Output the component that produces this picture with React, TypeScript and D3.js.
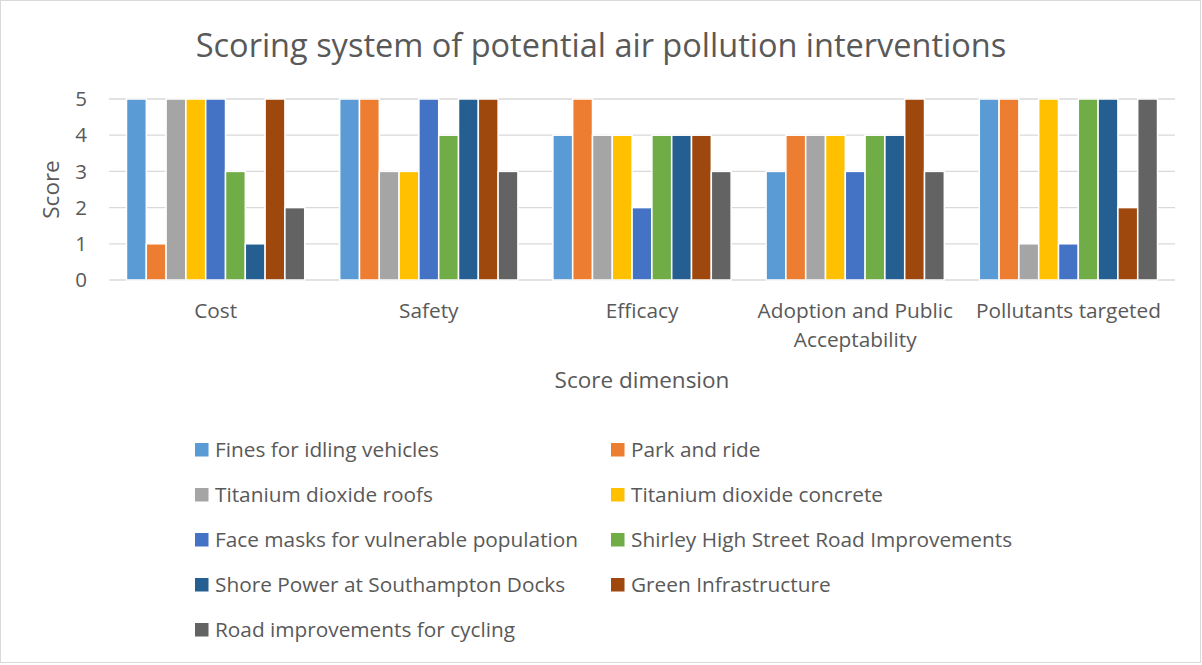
import React from "react";
import * as d3 from "d3";

const categories = ["Cost", "Safety", "Efficacy", "Adoption and Public Acceptability", "Pollutants targeted"];
const categoryLines = [["Cost"], ["Safety"], ["Efficacy"], ["Adoption and Public", "Acceptability"], ["Pollutants targeted"]];
const seriesNames = [
  "Fines for idling vehicles",
  "Park and ride",
  "Titanium dioxide roofs",
  "Titanium dioxide concrete",
  "Face masks for vulnerable population",
  "Shirley High Street Road Improvements",
  "Shore Power at Southampton Docks",
  "Green Infrastructure",
  "Road improvements for cycling",
];
const seriesColors = ["#5B9BD5", "#ED7D31", "#A5A5A5", "#FFC000", "#4472C4", "#70AD47", "#255E91", "#9E480E", "#636363"];
// values[series][category]
const fines = [5, 5, 4, 3, 5];
const parkRide = [1, 5, 5, 4, 5];
const tioRoofs = [5, 3, 4, 4, 1];
const tioConcrete = [5, 3, 4, 4, 5];
const faceMasks = [5, 5, 2, 3, 1];
const shirley = [3, 4, 4, 4, 5];
const shorePower = [1, 5, 4, 4, 5];
const greenInfra = [5, 5, 4, 5, 2];
const cycling = [2, 3, 3, 3, 5];
const seriesValues = [fines, parkRide, tioRoofs, tioConcrete, faceMasks, shirley, shorePower, greenInfra, cycling];
const yTicks = [0, 1, 2, 3, 4, 5];

const W = 1202, H = 665;
const FONT = "'Open Sans', 'Noto Sans', sans-serif";
const TXT = "#595959";

export default function App() {
  const left = 109, right = 1175, top = 99, bottom = 280;
  const x = d3.scaleBand<number>().domain(d3.range(categories.length)).range([left, right]).padding(0);
  const y = d3.scaleLinear().domain([0, 5]).range([bottom, top]);
  const bw = x.bandwidth();
  const pad = bw * 0.082;
  const xs = d3.scaleBand<number>().domain(d3.range(seriesNames.length)).range([pad, bw - pad]).padding(0);

  const legendCols = [195, 611];
  const legendY0 = 450, legendStep = 45;

  return (
    <svg width={W} height={H} style={{ position: "fixed", left: 0, top: 0, background: "#fff" }} fontFamily={FONT}>
      <rect x={0.5} y={0.5} width={W - 2} height={H - 3} fill="#fff" stroke="#D9D9D9" />
      <text x={601} y={57} textAnchor="middle" fontSize={32.5} fill={TXT}>
        Scoring system of potential air pollution interventions
      </text>
      {yTicks.map((t) => (
        <g key={t}>
          <line x1={left} x2={right} y1={y(t)} y2={y(t)} stroke="#D9D9D9" strokeWidth={1.3} />
          <text x={87} y={y(t)} dy="0.35em" textAnchor="end" fontSize={20.5} fill={TXT}>{t}</text>
        </g>
      ))}
      <text transform={`translate(59,${(top + bottom) / 2}) rotate(-90)`} textAnchor="middle" fontSize={22.5} fill={TXT}>Score</text>
      {seriesValues.map((vals, si) =>
        vals.map((v, ci) => (
          <rect
            key={`${si}-${ci}`}
            x={(x(ci) as number) + (xs(si) as number)}
            y={y(v)}
            width={xs.bandwidth()}
            height={bottom - y(v)}
            fill={seriesColors[si]}
            stroke="#fff"
            strokeWidth={1.5}
          />
        ))
      )}
      {categoryLines.map((lines, ci) => (
        <text key={ci} x={(x(ci) as number) + bw / 2} y={318} textAnchor="middle" fontSize={20.8} fill={TXT}>
          {lines.map((l, li) => (
            <tspan key={li} x={(x(ci) as number) + bw / 2} dy={li === 0 ? 0 : 29}>{l}</tspan>
          ))}
        </text>
      ))}
      <text x={642} y={388} textAnchor="middle" fontSize={22.5} fill={TXT}>Score dimension</text>
      {seriesNames.map((name, i) => {
        const col = i % 2, row = Math.floor(i / 2);
        const lx = legendCols[col], ly = legendY0 + row * legendStep;
        return (
          <g key={name}>
            <rect x={lx} y={ly - 7} width={13.5} height={13.5} fill={seriesColors[i]} />
            <text x={lx + 20} y={ly} dy="0.35em" fontSize={20.8} fill={TXT}>{name}</text>
          </g>
        );
      })}
    </svg>
  );
}
